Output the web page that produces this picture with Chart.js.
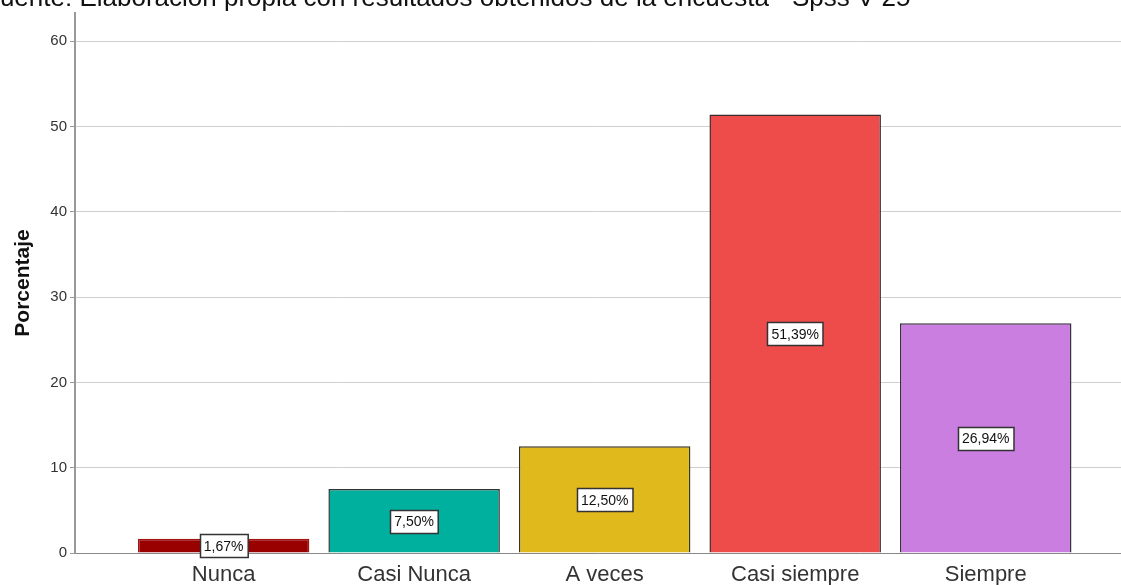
<!DOCTYPE html>
<html>
<head>
<meta charset="utf-8">
<script src="https://cdn.jsdelivr.net/npm/chart.js@4.4.0/dist/chart.umd.min.js"></script>
<style>
  html, body { margin: 0; padding: 0; background: #fff; overflow: hidden; }
  #wrap { position: relative; width: 1121px; height: 585px; }
  #fuente {
    position: absolute; left: -16px; top: -18px;
    font-family: "Liberation Sans", Arial, sans-serif; font-size: 26px; color: #111;
    white-space: nowrap;
  }
</style>
</head>
<body>
<div id="wrap">
  <canvas id="grafico" width="1121" height="585"></canvas>
  <div id="fuente">Fuente: Elaboración propia con resultados obtenidos de la encuesta - Spss V 25</div>
</div>
<script>
// Datos
const categorias = ["Nunca", "Casi Nunca", "A veces", "Casi siempre", "Siempre"];
const porcentajes = [1.67, 7.50, 12.50, 51.39, 26.94];
const etiquetasY = [0, 10, 20, 30, 40, 50, 60];

const colores = ["#990000", "#00b09e", "#e0b91c", "#ee4b4b", "#c97ee0"];
const bordes = ["#a31515", "#2e3533", "#3a3522", "#3a2a2a", "#3a3040"];

// Caja blanca con el porcentaje en el centro de cada barra
const etiquetasBarras = {
    id: 'etiquetasBarras',
    afterDatasetsDraw(chart) {
        const ctx = chart.ctx;
        const meta = chart.getDatasetMeta(0);
        const y = chart.scales.y;
        ctx.save();
        ctx.font = '14px "Liberation Sans", Arial, sans-serif';
        ctx.textAlign = 'center';
        ctx.textBaseline = 'middle';
        meta.data.forEach((bar, i) => {
            const txt = porcentajes[i].toFixed(2).replace('.', ',') + '%';
            const cy = y.getPixelForValue(porcentajes[i] / 2);
            const w = ctx.measureText(txt).width + 8;
            const h = 23;
            const x0 = Math.round(bar.x - w / 2) + 0.5;
            const y0 = Math.round(cy - h / 2) + 0.5;
            ctx.fillStyle = '#ffffff';
            ctx.fillRect(x0, y0, w, h);
            ctx.strokeStyle = '#333333';
            ctx.lineWidth = 1.5;
            ctx.strokeRect(x0, y0, w, h);
            ctx.fillStyle = '#111111';
            ctx.fillText(txt, bar.x, cy + 1);
        });
        ctx.restore();
    }
};

const ctxGrafico = document.getElementById('grafico').getContext('2d');
new Chart(ctxGrafico, {
    type: 'bar',
    data: {
        datasets: [{
            data: porcentajes.map((v, i) => ({ x: i, y: v })),
            backgroundColor: colores,
            borderColor: bordes,
            borderWidth: 1.5,
            barPercentage: 0.9,
            categoryPercentage: 1.0
        }]
    },
    options: {
        responsive: false,
        animation: false,
        layout: { padding: { top: 13, right: 0, bottom: 0, left: 0 } },
        plugins: {
            legend: { display: false },
            tooltip: { enabled: false }
        },
        scales: {
            x: {
                type: 'linear',
                offset: false,
                min: -0.78,
                max: 4.71,
                afterBuildTicks: (s) => { s.ticks = categorias.map((c, i) => ({ value: i })); },
                afterFit: (s) => { s.height = 32; },
                ticks: {
                    callback: (v) => categorias[v],
                    font: { family: '"Liberation Sans", Arial, sans-serif', size: 22 },
                    color: '#333',
                    padding: 9,
                    maxRotation: 0
                },
                grid: { display: false, drawTicks: false, tickLength: 0 },
                border: { color: '#888', width: 1 }
            },
            y: {
                min: 0,
                max: 63.3,
                afterBuildTicks: (s) => { s.ticks = etiquetasY.map(v => ({ value: v })); },
                afterFit: (s) => { s.width = 75; },
                ticks: {
                    font: { family: '"Liberation Sans", Arial, sans-serif', size: 15 },
                    color: '#333',
                    padding: 3
                },
                grid: { color: '#cfcfcf', tickLength: 5, tickColor: '#999' },
                border: { color: '#999', width: 2 },
                title: {
                    display: true,
                    text: 'Porcentaje',
                    font: { family: '"Liberation Sans", Arial, sans-serif', size: 21, weight: 'bold' },
                    color: '#111',
                    padding: { top: 11, bottom: 0 }
                }
            }
        }
    },
    plugins: [etiquetasBarras]
});
</script>
</body>
</html>
